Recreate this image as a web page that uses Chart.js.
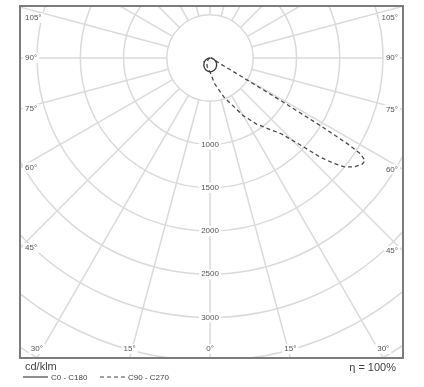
<!DOCTYPE html>
<html>
<head>
<meta charset="utf-8">
<script src="https://cdn.jsdelivr.net/npm/chart.js@4.4.1/dist/chart.umd.min.js"></script>
<style>
  html, body { margin: 0; padding: 0; background: #fff; }
</style>
</head>
<body>
<canvas id="canvas" width="424" height="387"></canvas>
<script>
// gamma angles (deg) and luminous intensity (cd/klm)
const gammaC0 = [0, 10, 20, 30, 40, 50, 60, 70, 80, 90];
const valuesC0 = [160, 156, 148, 135, 118, 98, 76, 52, 28, 8];
const valuesC180 = [160, 155, 145, 130, 112, 90, 68, 45, 22, 5];

const gammaC90 = [0, 10, 20, 30, 35, 40, 43, 46, 48, 49.5, 51, 53, 55, 56.5, 57.5, 58, 58.5, 59, 59.5, 60.5, 63, 70, 80, 90];
const valuesC90 = [160, 300, 490, 770, 930, 1080, 1190, 1440, 1710, 1870, 2000, 2090, 2145, 2150, 2060, 1900, 1500, 900, 400, 150, 80, 40, 20, 5];
const gammaC270 = [0, 10, 20, 30, 40, 50, 60, 75, 90];
const valuesC270 = [160, 130, 100, 70, 45, 28, 15, 5, 0];

// grid rings and labels
const ringValues = [500, 1000, 1500, 2000, 2500, 3000, 3500, 4000, 4500, 5000];
const ringLabels = ['1000', '1500', '2000', '2500', '3000'];
const sideAngles = [105, 90, 75, 60, 45];
const bottomAngles = [-30, -15, 0, 15, 30];

// polar (gamma, I) -> x/y, side = -1 for the left half
function toXY(gammas, values, side) {
    return gammas.map((g, i) => {
        const a = g * Math.PI / 180;
        return { x: side * values[i] * Math.sin(a), y: -values[i] * Math.cos(a) };
    });
}

const curveC0 = toXY(gammaC0, valuesC180, -1).reverse().concat(toXY(gammaC0, valuesC0, 1));
const curveC90 = toXY(gammaC270, valuesC270, -1).reverse().concat(toXY(gammaC90, valuesC90, 1));

const FONT = '"Liberation Sans", Arial, sans-serif';

// circles, radial lines and their labels
const polarGrid = {
    id: 'polarGrid',
    beforeDatasetsDraw(chart) {
        const { ctx, chartArea: a, scales: { x, y } } = chart;
        const cx = x.getPixelForValue(0), cy = y.getPixelForValue(0);
        const k = (x.getPixelForValue(1000) - cx) / 1000;
        ctx.save();
        ctx.beginPath();
        ctx.rect(a.left, a.top, a.right - a.left, a.bottom - a.top);
        ctx.clip();
        ctx.strokeStyle = '#dadada';
        ctx.lineWidth = 1.5;
        ringValues.forEach(v => {
            ctx.beginPath();
            ctx.arc(cx, cy, v * k, 0, Math.PI * 2);
            ctx.stroke();
        });
        const r0 = ringValues[0] * k, r1 = 6000 * k;
        for (let d = 0; d < 360; d += 15) {
            const t = d * Math.PI / 180;
            ctx.beginPath();
            ctx.moveTo(cx + r0 * Math.sin(t), cy + r0 * Math.cos(t));
            ctx.lineTo(cx + r1 * Math.sin(t), cy + r1 * Math.cos(t));
            ctx.stroke();
        }

        ctx.font = '8px ' + FONT;
        ctx.textBaseline = 'middle';
        const label = (txt, px, py, align) => {
            const w = ctx.measureText(txt).width;
            const left = align === 'left' ? px : align === 'right' ? px - w : px - w / 2;
            ctx.fillStyle = '#fff';
            ctx.fillRect(left - 2, py - 5, w + 4, 10);
            ctx.fillStyle = '#555';
            ctx.textAlign = align;
            ctx.fillText(txt, px, py);
        };
        ringLabels.forEach(t => label(t, cx, y.getPixelForValue(-Number(t)), 'center'));

        sideAngles.forEach(g => {
            const t = g * Math.PI / 180;
            const clampY = v => Math.min(a.bottom - 12, Math.max(a.top + 12, v));
            const yl = clampY(cy + (cx - a.left) / Math.sin(t) * Math.cos(t));
            const yr = clampY(cy + (a.right - cx) / Math.sin(t) * Math.cos(t));
            label(g + '°', a.left + 5, yl, 'left');
            label(g + '°', a.right - 5, yr, 'right');
        });
        bottomAngles.forEach(g => {
            const t = g * Math.PI / 180;
            const px = cx + (a.bottom - cy) * Math.tan(t);
            label(Math.abs(g) + '°', Math.min(a.right - 14, Math.max(a.left + 14, px)), a.bottom - 9, 'center');
        });
        ctx.restore();
    }
};

// frame, unit, legend and efficiency note
const frameAndNotes = {
    id: 'frameAndNotes',
    afterDraw(chart) {
        const { ctx, chartArea: a } = chart;
        ctx.save();
        ctx.strokeStyle = '#7c7c7c';
        ctx.lineWidth = 2;
        ctx.strokeRect(a.left, a.top, a.right - a.left, a.bottom - a.top);

        ctx.fillStyle = '#444';
        ctx.textBaseline = 'middle';
        ctx.font = '11px ' + FONT;
        ctx.textAlign = 'left';
        ctx.fillText('cd/klm', 25, 367);
        ctx.textAlign = 'right';
        ctx.fillText('η = 100%', 396, 368);

        ctx.font = '8px ' + FONT;
        ctx.textAlign = 'left';
        const ds = chart.data.datasets;
        ctx.strokeStyle = '#444';
        ctx.lineWidth = 1.2;
        ctx.beginPath();
        ctx.moveTo(23, 377);
        ctx.lineTo(48, 377);
        ctx.stroke();
        ctx.fillText(ds[0].label, 51, 378);
        ctx.setLineDash([4, 3]);
        ctx.beginPath();
        ctx.moveTo(100, 377);
        ctx.lineTo(125, 377);
        ctx.stroke();
        ctx.fillText(ds[1].label, 128, 378);
        ctx.restore();
    }
};

new Chart(document.getElementById('canvas'), {
    type: 'scatter',
    data: {
        datasets: [{
            label: 'C0 - C180',
            data: curveC0,
            showLine: true,
            borderColor: '#3c3c3c',
            borderWidth: 1.3,
            pointRadius: 0
        }, {
            label: 'C90 - C270',
            data: curveC90,
            showLine: true,
            borderColor: '#4a4a4a',
            borderWidth: 1.3,
            borderDash: [4, 3],
            pointRadius: 0
        }]
    },
    options: {
        responsive: false,
        animation: false,
        layout: { padding: { left: 20, top: 6, right: 21, bottom: 29 } },
        scales: {
            x: { type: 'linear', min: -2197, max: 2231, display: false },
            y: { type: 'linear', min: -3468, max: 601, display: false }
        },
        plugins: {
            legend: { display: false },
            tooltip: { enabled: false }
        }
    },
    plugins: [polarGrid, frameAndNotes]
});
</script>
</body>
</html>
